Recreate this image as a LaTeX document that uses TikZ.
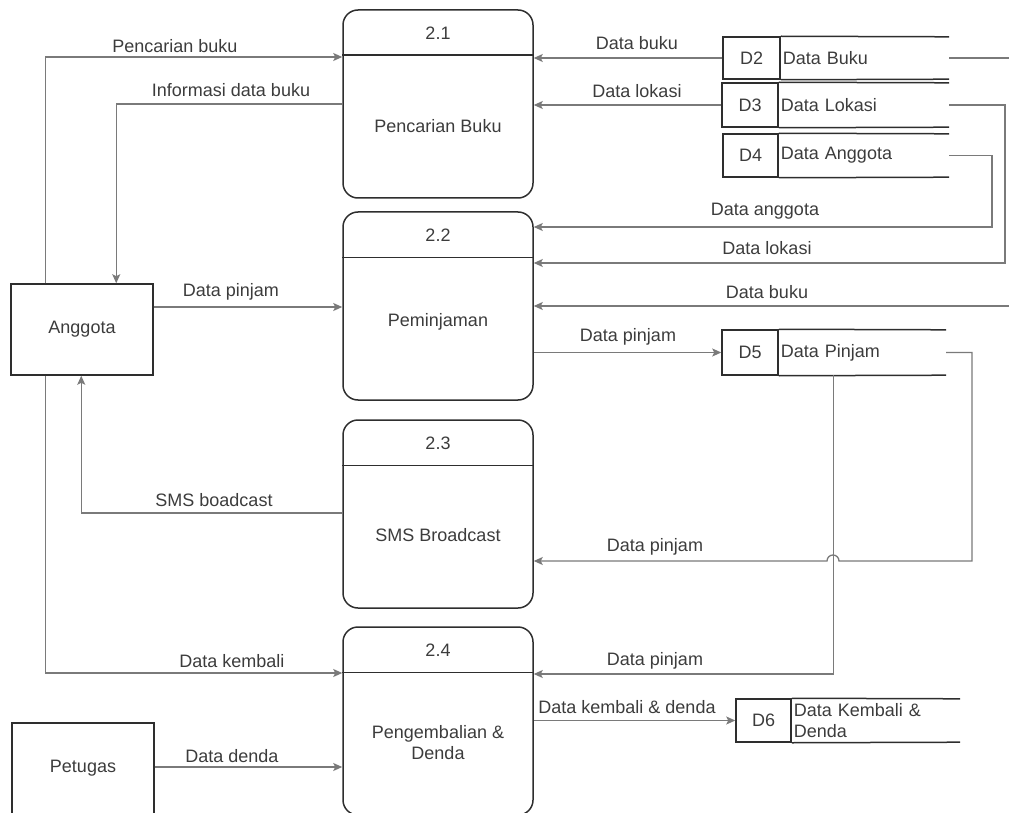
\documentclass[tikz,border=0pt]{standalone}
\usepackage{fontspec}
\setmainfont{Liberation Sans}
\usetikzlibrary{arrows.meta}
\definecolor{ink}{HTML}{2E2E2E}
\definecolor{flow}{HTML}{7A7A7A}
\definecolor{txt}{HTML}{3C3C3C}

\begin{document}
\begin{tikzpicture}[x=1pt,y=-1pt,
  every node/.style={font=\fontsize{18}{21}\selectfont, text=txt, inner sep=0pt},
  proc/.style={draw=ink, line width=1.5pt, rounded corners=15pt,
               minimum width=190pt, minimum height=188pt},
  divider/.style={draw=ink, line width=1.5pt},
  ext/.style={draw=ink, line width=1.5pt, minimum width=142pt, minimum height=91pt},
  sid/.style={draw=ink, line width=1.5pt},
  stxt/.style={anchor=west, align=left, inner xsep=2pt},
  sline/.style={draw=ink, line width=1.5pt},
  flowline/.style={draw=flow, line width=1.3pt, -{Stealth[length=9pt,width=8pt,inset=2pt]}},
  plain/.style={draw=flow, line width=1.3pt}]

\useasboundingbox (0,0) rectangle (1009,813);

% processes
\node[proc] (p1) at (438,104) {};
\node[proc] (p2) at (438,306) {};
\node[proc] (p3) at (438,514) {};
\node[proc] (p4) at (438,721) {};
\foreach \p in {p1,p2,p3,p4}
  \draw[divider] ([yshift=-46pt]\p.north west) -- ([yshift=-46pt]\p.north east);

\node (p1n) at (438,33) {2.1};
\node (p1l) at (438,126) {Pencarian Buku};
\node (p2n) at (438,235) {2.2};
\node (p2l) at (438,322) {Peminjaman};
\node (p3n) at (438,443) {2.3};
\node (p3l) at (438,535) {SMS Broadcast};
\node (p4n) at (438,650) {2.4};
\node[align=center] (p4l) at (438,743) {Pengembalian \&\\Denda};

% external entities
\node[ext] (ang) at (82,329.5) {Anggota};
\node[ext] (pet) at (83,768.5) {Petugas};

% data stores
\node[sid, minimum width=57pt, minimum height=42pt] (d2) at (751.5,58) {D2};
\node[stxt, text width=164pt, minimum height=42pt] (d2t) at (d2.east) {Data Buku};
\node[sid, minimum width=56pt, minimum height=44pt] (d3) at (750,105) {D3};
\node[stxt, text width=166pt, minimum height=44pt] (d3t) at (d3.east) {Data Lokasi};
\node[sid, minimum width=55pt, minimum height=43pt] (d4) at (750.5,155.5) {D4};
\node[stxt, text width=166pt, minimum height=43pt] (d4t) at (d4.east) {Data Anggota};
\node[sid, minimum width=56pt, minimum height=45pt] (d5) at (750,352.5) {D5};
\node[stxt, text width=163pt, minimum height=45pt] (d5t) at (d5.east) {Data Pinjam};
\node[sid, minimum width=55pt, minimum height=43pt] (d6) at (763.5,720.5) {D6};
\node[stxt, text width=164pt, minimum height=43pt] (d6t) at (d6.east) {Data Kembali \&\\Denda};
\foreach \s in {d2,d3,d4,d5,d6}
  \draw[sline] (\s.north east) -- (\s t.north east) (\s.south east) -- (\s t.south east);

% bend points of the flows on the right
\coordinate (k2) at (1009,58);
\coordinate (k2b) at (1009,306);
\coordinate (k3) at (1005,263);
\coordinate (k4) at (992,227);
\coordinate (k5) at (972,561);

% flows
\draw[flowline] ([xshift=35pt]ang.north west) |- (p1.west |- 0,57);
\node (l1) at (175,46) {Pencarian buku};
\draw[flowline] (p1.west |- 0,104) -| ([xshift=106pt]ang.north west);
\node (l2) at (231,90) {Informasi data buku};
\draw[flowline] (d2.west) -- (p1.east |- d2.west);
\node (l3) at (637,43) {Data buku};
\draw[flowline] (d3.west) -- (p1.east |- d3.west);
\node (l4) at (637,91) {Data lokasi};

\draw[flowline] (d4t.east) -| (k4) -- (p2.east |- k4);
\node (l5) at (765,211) {Data anggota};
\draw[flowline] (d3t.east) -| (k3) -- (p2.east |- k3);
\node (l6) at (767,248) {Data lokasi};
\draw[plain] (d2t.east) -- (k2);
\draw[flowline] (k2b) -- (p2.east |- k2b);
\node (l7) at (767,292) {Data buku};

\draw[flowline] (ang.east |- 0,307) -- (p2.west |- 0,307);
\node (l8) at (231,292) {Data pinjam};
\draw[flowline] (p2.east |- d5.west) -- (d5.west);
\node (l9) at (628,337) {Data pinjam};

\draw[flowline] (d5t.east) -| (k5) -- (839,561)
  arc[start angle=0, end angle=180, radius=6pt] -- (p3.east |- k5);
\node (l10) at (655,547) {Data pinjam};
\draw[flowline] ([xshift=55pt]d5t.south west) |- (p4.east |- 0,674);
\node (l11) at (655,661) {Data pinjam};

\draw[flowline] (p3.west |- 0,513) -| ([xshift=71pt]ang.south west);
\node (l12) at (214,500) {SMS boadcast};
\draw[flowline] ([xshift=35pt]ang.south west) |- (p4.west |- 0,673);
\node (l13) at (232,661) {Data kembali};
\draw[flowline] (pet.east |- 0,767) -- (p4.west |- 0,767);
\node (l14) at (232,756) {Data denda};
\draw[flowline] (p4.east |- d6.west) -- (d6.west);
\node (l15) at (627,707) {Data kembali \& denda};

\end{tikzpicture}
\end{document}
